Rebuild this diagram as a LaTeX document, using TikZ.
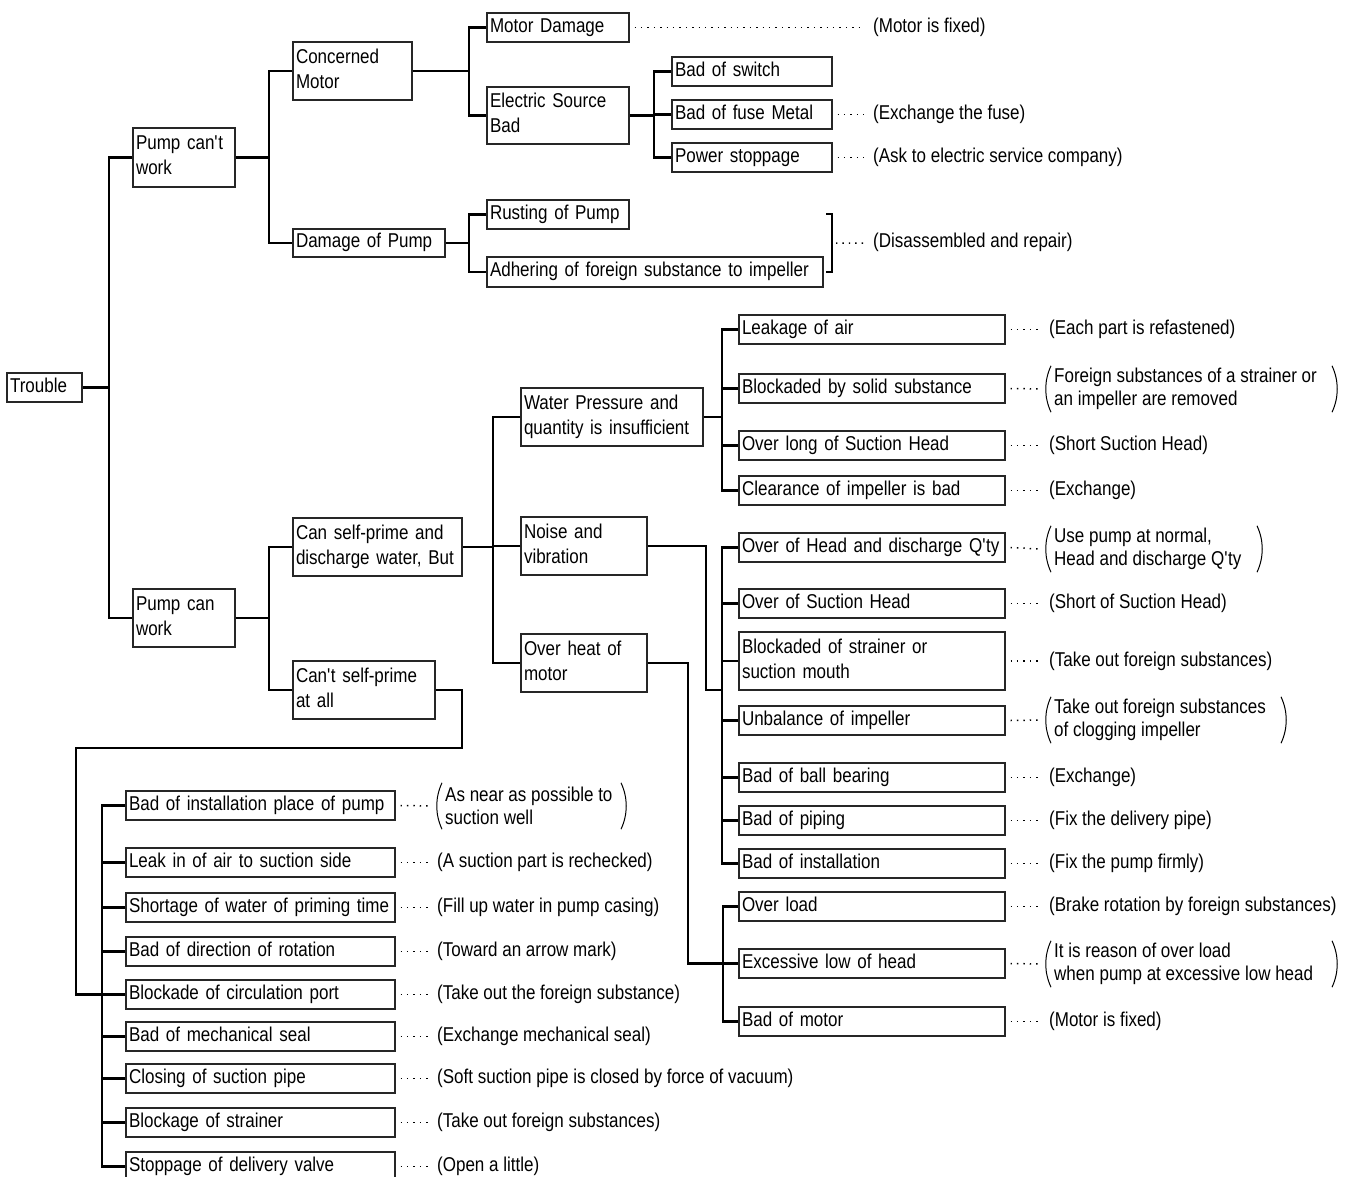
\documentclass[tikz,border=0pt]{standalone}
\usepackage{fontspec}
\setmainfont{Liberation Sans}[FakeStretch=0.85]
\usetikzlibrary{calc}

\tikzset{
  box/.style={draw=black!85, line width=1.1pt, rectangle, inner xsep=3pt, inner ysep=0pt,
    align=left, font=\fontsize{20}{25}\selectfont,
    execute at begin node=\strut, execute at end node=\strut},
  conn/.style={line width=2.3pt, line join=miter},
  leader/.style={line width=1.5pt, dash pattern=on 1.4pt off 5pt},
  sol/.style={anchor=west, inner xsep=3pt, inner ysep=0pt, font=\fontsize{20}{25}\selectfont,
    execute at begin node=\strut},
  psol/.style={anchor=west, inner xsep=9pt, inner ysep=0pt, minimum height=46pt, align=left,
    font=\fontsize{20}{23}\selectfont},
  paren/.style={line width=1pt},
  bracket/.style={line width=2pt},
}

\newcommand\ap{\textquotesingle}

% box given by its corners (x1,y1)-(x2,y2), y measured downwards
\newcommand\tbox[6]{%
  \pgfmathsetmacro\bxw{#4-#2}%
  \pgfmathsetmacro\bxh{#5-#3}%
  \pgfmathsetmacro\bxt{#4-#2-6}%
  \node[box, minimum width=\bxw pt, minimum height=\bxh pt, text width=\bxt pt]
    (#1) at ({(#2+#4)/2},{(#3+#5)/2}) {#6};}

% two-line remedy between round brackets: name, left x, right x, centre y, text
\newcommand\premedy[5]{%
  \node[psol] (#1) at (#2,#4) {#5};
  \coordinate (#1-r) at (#3,0);
  \draw[paren] ($(#1.north west)+(6,0)$) .. controls ($(#1.north west)+(-1,15)$)
    and ($(#1.south west)+(-1,-15)$) .. ($(#1.south west)+(6,0)$);
  \draw[paren] ($(#1.north -| #1-r)+(-6,0)$) .. controls ($(#1.north -| #1-r)+(1,15)$)
    and ($(#1.south -| #1-r)+(1,-15)$) .. ($(#1.south -| #1-r)+(-6,0)$);}

% dotted leader from a cause box to its remedy
\newcommand\lead[2]{\draw[leader] ($(#1.east)+(5,0)$) -- ($(#2.west)+(-6,0)$);}

\begin{document}
\begin{tikzpicture}[x=1pt,y=-1pt]
\useasboundingbox (0,0) rectangle (1361,1177);

% ---------- causes ----------
\tbox{trouble}{7}{373}{82}{402}{Trouble}
\tbox{pcw}{133}{128}{235}{187}{Pump can\ap t\\work}
\tbox{pcan}{133}{589}{235}{647}{Pump can\\work}
\tbox{cm}{293}{42}{412}{100}{Concerned\\Motor}
\tbox{dp}{293}{229}{445}{257}{Damage of Pump}
\tbox{md}{487}{13}{629}{42}{Motor Damage}
\tbox{esb}{487}{87}{629}{144}{Electric Source\\Bad}
\tbox{bsw}{672}{57}{832}{86}{Bad of switch}
\tbox{bfm}{672}{100}{832}{129}{Bad of fuse Metal}
\tbox{pst}{672}{143}{832}{172}{Power stoppage}
\tbox{rust}{487}{200}{629}{229}{Rusting of Pump}
\tbox{adh}{487}{257}{823}{287}{Adhering of foreign substance to impeller}
\tbox{csp}{293}{518}{462}{576}{Can self-prime and\\discharge water, But}
\tbox{cnt}{293}{661}{435}{719}{Can\ap t self-prime\\at all}
\tbox{wp}{521}{388}{703}{446}{Water Pressure and\\quantity is insufficient}
\tbox{nv}{521}{517}{647}{575}{Noise and\\vibration}
\tbox{oh}{521}{634}{647}{692}{Over heat of\\motor}

\tbox{la}{739}{315}{1005}{344}{Leakage of air}
\tbox{bss}{739}{374}{1005}{403}{Blockaded by solid substance}
\tbox{ols}{739}{431}{1005}{460}{Over long of Suction Head}
\tbox{cib}{739}{476}{1005}{505}{Clearance of impeller is bad}
\tbox{ohd}{739}{533}{1005}{562}{Over of Head and discharge Q\ap ty}
\tbox{osh}{739}{589}{1005}{618}{Over of Suction Head}
\tbox{bsm}{739}{632}{1005}{690}{Blockaded of strainer or\\suction mouth}
\tbox{ui}{739}{706}{1005}{735}{Unbalance of impeller}
\tbox{bbb}{739}{763}{1005}{792}{Bad of ball bearing}
\tbox{bop}{739}{806}{1005}{835}{Bad of piping}
\tbox{boi}{739}{849}{1005}{878}{Bad of installation}
\tbox{ol}{739}{892}{1005}{921}{Over load}
\tbox{elh}{739}{949}{1005}{978}{Excessive low of head}
\tbox{bom}{739}{1007}{1005}{1036}{Bad of motor}

\tbox{bip}{126}{791}{395}{820}{Bad of installation place of pump}
\tbox{lia}{126}{848}{395}{877}{Leak in of air to suction side}
\tbox{sow}{126}{893}{395}{922}{Shortage of water of priming time}
\tbox{bdr}{126}{937}{395}{966}{Bad of direction of rotation}
\tbox{bcp}{126}{980}{395}{1009}{Blockade of circulation port}
\tbox{bms}{126}{1022}{395}{1051}{Bad of mechanical seal}
\tbox{cls}{126}{1064}{395}{1093}{Closing of suction pipe}
\tbox{bst}{126}{1108}{395}{1137}{Blockage of strainer}
\tbox{sdv}{126}{1152}{395}{1181}{Stoppage of delivery valve}

% ---------- tree connectors ----------
\coordinate (bT) at (109,0);
\draw[conn] (trouble.east) -- (trouble.east -| bT);
\draw[conn] (pcw.west) -- (pcw.west -| bT) -- (pcan.west -| bT) -- (pcan.west);

\coordinate (bP) at (269,0);
\draw[conn] (pcw.east) -- (pcw.east -| bP);
\draw[conn] (cm.west) -- (cm.west -| bP) -- (dp.west -| bP) -- (dp.west);
\draw[conn] (pcan.east) -- (pcan.east -| bP);
\draw[conn] (csp.west) -- (csp.west -| bP) -- (cnt.west -| bP) -- (cnt.west);

\coordinate (bM) at (469,0);
\draw[conn] (cm.east) -- (cm.east -| bM);
\draw[conn] (md.west) -- (md.west -| bM) -- (esb.west -| bM) -- (esb.west);
\draw[conn] (dp.east) -- (dp.east -| bM);
\draw[conn] (rust.west) -- (rust.west -| bM) -- (adh.west -| bM) -- (adh.west);

\coordinate (bE) at (654,0);
\draw[conn] (esb.east) -- (esb.east -| bE);
\draw[conn] (bsw.west) -- (bsw.west -| bE) -- (pst.west -| bE) -- (pst.west);
\draw[conn] (bfm.west) -- (bfm.west -| bE);

\coordinate (bC) at (493,0);
\draw[conn] (csp.east) -- (csp.east -| bC);
\draw[conn] (wp.west) -- (wp.west -| bC) -- (oh.west -| bC) -- (oh.west);
\draw[conn] (nv.west) -- (nv.west -| bC);

\coordinate (bW) at (722,0);
\draw[conn] (wp.east) -- (wp.east -| bW);
\draw[conn] (la.west) -- (la.west -| bW) -- (cib.west -| bW) -- (cib.west);
\foreach \c in {bss,ols} \draw[conn] (\c.west) -- (\c.west -| bW);

\coordinate (nvk) at (706,690);
\coordinate (bN) at (722,0);
\draw[conn] (nv.east) -| (nvk) -- (nvk -| bN);
\draw[conn] (ohd.west) -- (ohd.west -| bN) -- (boi.west -| bN) -- (boi.west);
\foreach \c in {osh,bsm,ui,bbb,bop} \draw[conn] (\c.west) -- (\c.west -| bN);

\coordinate (ohk) at (688,0);
\coordinate (bO) at (723,0);
\draw[conn] (oh.east) -| (elh.west -| ohk) -- (elh.west);
\draw[conn] (ol.west) -- (ol.west -| bO) -- (bom.west -| bO) -- (bom.west);

\coordinate (ck1) at (462,748);
\coordinate (ck2) at (76,748);
\draw[conn] (cnt.east) -| (ck1) -- (ck2) |- (bcp.west);
\coordinate (bB) at (102,0);
\draw[conn] (bip.west) -- (bip.west -| bB) -- (sdv.west -| bB) -- (sdv.west);
\foreach \c in {lia,sow,bdr,bms,cls,bst} \draw[conn] (\c.west) -- (\c.west -| bB);

% ---------- remedies ----------
\node[sol] (smd) at (870,27.5) {(Motor is fixed)};
\node[sol] (sfu) at (870,114.5) {(Exchange the fuse)};
\node[sol] (sps) at (870,157.5) {(Ask to electric service company)};
\node[sol] (sdis) at (870,243) {(Disassembled and repair)};
\lead{md}{smd}
\lead{bfm}{sfu}
\lead{pst}{sps}

\coordinate (brt) at (832,214.5);
\coordinate (brb) at (832,272);
\draw[bracket] ($(brt)+(-6,0)$) -- (brt) -- (brb) -- ($(brb)+(-6,0)$);
\draw[leader] ($(brt)!0.5!(brb)+(4,0)$) -- ($(sdis.west)+(-6,0)$);

\node[sol] (sla) at (1046,329.5) {(Each part is refastened)};
\premedy{sbss}{1045}{1338}{389}{Foreign substances of a strainer or\\an impeller are removed}
\node[sol] (sols) at (1046,445.5) {(Short Suction Head)};
\node[sol] (scib) at (1046,490.5) {(Exchange)};
\premedy{sohd}{1045}{1263}{549}{Use pump at normal,\\Head and discharge Q\ap ty}
\node[sol] (sosh) at (1046,603.5) {(Short of Suction Head)};
\node[sol] (sbsm) at (1046,661) {(Take out foreign substances)};
\premedy{sui}{1045}{1287}{720}{Take out foreign substances\\of clogging impeller}
\node[sol] (sbbb) at (1046,777.5) {(Exchange)};
\node[sol] (sbop) at (1046,820.5) {(Fix the delivery pipe)};
\node[sol] (sboi) at (1046,863.5) {(Fix the pump firmly)};
\node[sol] (sol) at (1046,906.5) {(Brake rotation by foreign substances)};
\premedy{selh}{1045}{1338}{964}{It is reason of over load\\when pump at excessive low head}
\node[sol] (sbom) at (1046,1021.5) {(Motor is fixed)};

\lead{la}{sla}
\lead{bss}{sbss}
\lead{ols}{sols}
\lead{cib}{scib}
\lead{ohd}{sohd}
\lead{osh}{sosh}
\lead{bsm}{sbsm}
\lead{ui}{sui}
\lead{bbb}{sbbb}
\lead{bop}{sbop}
\lead{boi}{sboi}
\lead{ol}{sol}
\lead{elh}{selh}
\lead{bom}{sbom}

\premedy{sbip}{436}{627}{806}{As near as possible to\\suction well}
\node[sol] (slia) at (434,862.5) {(A suction part is rechecked)};
\node[sol] (ssow) at (434,907.5) {(Fill up water in pump casing)};
\node[sol] (sbdr) at (434,951.5) {(Toward an arrow mark)};
\node[sol] (sbcp) at (434,994.5) {(Take out the foreign substance)};
\node[sol] (sbms) at (434,1036.5) {(Exchange mechanical seal)};
\node[sol] (scls) at (434,1078.5) {(Soft suction pipe is closed by force of vacuum)};
\node[sol] (sbst) at (434,1122.5) {(Take out foreign substances)};
\node[sol] (ssdv) at (434,1166.5) {(Open a little)};

\lead{bip}{sbip}
\lead{lia}{slia}
\lead{sow}{ssow}
\lead{bdr}{sbdr}
\lead{bcp}{sbcp}
\lead{bms}{sbms}
\lead{cls}{scls}
\lead{bst}{sbst}
\lead{sdv}{ssdv}
\end{tikzpicture}
\end{document}
